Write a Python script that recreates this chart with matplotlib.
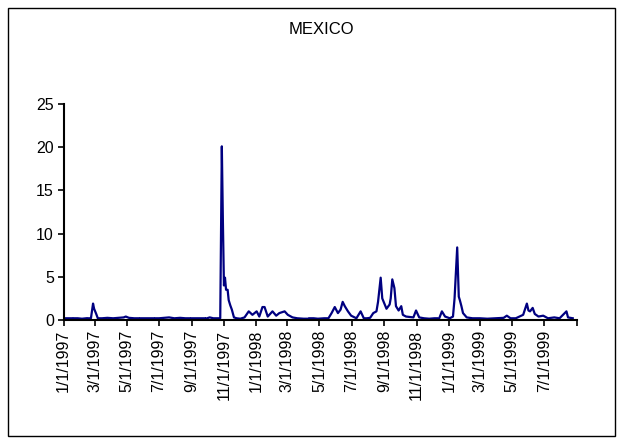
import numpy as np
import pandas as pd
import matplotlib
matplotlib.use('Agg')
import matplotlib.pyplot as plt
from matplotlib.patches import Rectangle

plt.rcParams['font.family'] = ['Liberation Sans', 'DejaVu Sans']

# Data (nan = short gap in the line)
dates = [
    '1997-01-05', '1997-01-12', '1997-01-17', '1997-01-19', '1997-01-21', '1997-01-28', '1997-02-05',
    '1997-02-13', '1997-02-15', '1997-02-17', '1997-02-22',
    '1997-02-26', '1997-02-28', '1997-03-02', '1997-03-04', '1997-03-07',
    '1997-03-15', '1997-03-25', '1997-04-05', '1997-04-15', '1997-04-25', '1997-04-29', '1997-05-05',
    '1997-05-15', '1997-05-23', '1997-05-25', '1997-05-27', '1997-06-03', '1997-06-12', '1997-06-20',
    '1997-06-22', '1997-06-24', '1997-07-01', '1997-07-10', '1997-07-20', '1997-07-30', '1997-08-10',
    '1997-08-20', '1997-08-28', '1997-08-30', '1997-09-01', '1997-09-08', '1997-09-18',
    '1997-09-26', '1997-09-28', '1997-09-30', '1997-10-05', '1997-10-12', '1997-10-20', '1997-10-25',
    '1997-10-28', '1997-10-30', '1997-11-01', '1997-11-03', '1997-11-05', '1997-11-08', '1997-11-10',
    '1997-11-13', '1997-11-16', '1997-11-20',
    '1997-11-25', '1997-12-02', '1997-12-10', '1997-12-18', '1997-12-25', '1998-01-02', '1998-01-07',
    '1998-01-13', '1998-01-17', '1998-01-23', '1998-02-01', '1998-02-08', '1998-02-14', '1998-02-24',
    '1998-03-02', '1998-03-11', '1998-03-20', '1998-04-01', '1998-04-08', '1998-04-10', '1998-04-12',
    '1998-04-20', '1998-04-28', '1998-05-10', '1998-05-18',
    '1998-05-24', '1998-05-30', '1998-06-05', '1998-06-10', '1998-06-14', '1998-06-18', '1998-06-24',
    '1998-06-30', '1998-07-10', '1998-07-18', '1998-07-24', '1998-07-30', '1998-08-05',
    '1998-08-11', '1998-08-17', '1998-08-20', '1998-08-25', '1998-08-28', '1998-09-05', '1998-09-11',
    '1998-09-13', '1998-09-16', '1998-09-20', '1998-09-23', '1998-09-28', '1998-10-03', '1998-10-06',
    '1998-10-12', '1998-10-26', '1998-10-31', '1998-11-06',
    '1998-11-15', '1998-11-25', '1998-12-05', '1998-12-10', '1998-12-12', '1998-12-14', '1998-12-19',
    '1998-12-25', '1999-01-03',
    '1999-01-09', '1999-01-12', '1999-01-17', '1999-01-20', '1999-01-22', '1999-01-25', '1999-01-28',
    '1999-02-04', '1999-02-15', '1999-03-01', '1999-03-15', '1999-04-01', '1999-04-15', '1999-04-21',
    '1999-04-28', '1999-05-08', '1999-05-22', '1999-05-29', '1999-06-01', '1999-06-04', '1999-06-09',
    '1999-06-13', '1999-06-20', '1999-06-29', '1999-07-08', '1999-07-20', '1999-07-30', '1999-08-12',
    '1999-08-15', '1999-08-24',
]
values = [
    0.2, 0.2, 0.2, np.nan, 0.2, 0.2, 0.15,
    0.2, np.nan, 0.2, 0.2,
    1.9, 1.3, 1.0, 0.7, 0.2,
    0.2, 0.25, 0.2, 0.25, 0.3, 0.4, 0.25,
    0.2, 0.2, np.nan, 0.2, 0.2, 0.2, 0.2,
    np.nan, 0.2, 0.2, 0.25, 0.3, 0.2, 0.25,
    0.2, 0.2, np.nan, 0.2, 0.2, 0.2,
    0.2, np.nan, 0.2, 0.3, 0.2, 0.2, 0.2,
    20.1, 11.5, 4.0, 4.9, 3.5, 3.5, 2.3,
    1.7, 1.2, 0.3,
    0.2, 0.15, 0.3, 1.0, 0.6, 1.0, 0.4,
    1.5, 1.5, 0.4, 1.0, 0.5, 0.8, 1.0,
    0.6, 0.3, 0.2, 0.15, 0.15, np.nan, 0.2,
    0.2, 0.15, 0.2, 0.2,
    0.8, 1.5, 0.8, 1.2, 2.1, 1.6, 1.0,
    0.5, 0.2, 1.0, 0.2, 0.2, 0.25,
    0.8, 1.0, 2.1, 4.9, 2.5, 1.3, 1.8,
    2.5, 4.7, 3.7, 1.6, 1.1, 1.6, 0.6,
    0.4, 0.3, 1.1, 0.3,
    0.2, 0.15, 0.2, 0.2, np.nan, 0.2, 1.0,
    0.4, 0.2,
    0.4, 2.5, 8.4, 2.7, 2.3, 1.6, 0.8,
    0.3, 0.2, 0.2, 0.15, 0.2, 0.25, 0.5,
    0.2, 0.2, 0.6, 1.9, 1.1, 1.0, 1.4,
    0.7, 0.4, 0.5, 0.2, 0.3, 0.2, 1.0,
    0.3, 0.2,
]
title = 'MEXICO'
tick_dates = pd.date_range('1997-01-01', '1999-09-01', freq='2MS')
tick_labels = [f'{d.month}/{d.day}/{d.year}' for d in tick_dates[:-1]] + ['']

W, H = 623, 444
fig = plt.figure(figsize=(W / 100, H / 100), dpi=100)

# outer chart border
fig.patches.append(Rectangle((8 / W, 8 / H), 607 / W, 428 / H, transform=fig.transFigure,
                             fill=False, edgecolor='black', linewidth=1))

ax = fig.add_axes([63.5 / W, 1 - 320 / H, (577 - 63.5) / W, (320 - 104) / H])
ax.plot(pd.to_datetime(dates), values, color='#000080', linewidth=1.6)

ax.set_xlim(pd.Timestamp('1997-01-01'), pd.Timestamp('1999-09-01'))
ax.set_ylim(0, 25)
ax.set_yticks([0, 5, 10, 15, 20, 25])
ax.set_xticks(tick_dates)
ax.set_xticklabels(tick_labels, rotation=90)
ax.tick_params(axis='both', labelsize=11.5, direction='out', length=4, width=1.2, pad=3)

for s in ['top', 'right']:
    ax.spines[s].set_visible(False)
for s in ['left', 'bottom']:
    ax.spines[s].set_linewidth(1.5)

fig.text(321 / W, 1 - 29 / H, title, ha='center', va='center', fontsize=12)

fig.savefig('out.png', dpi=100)
